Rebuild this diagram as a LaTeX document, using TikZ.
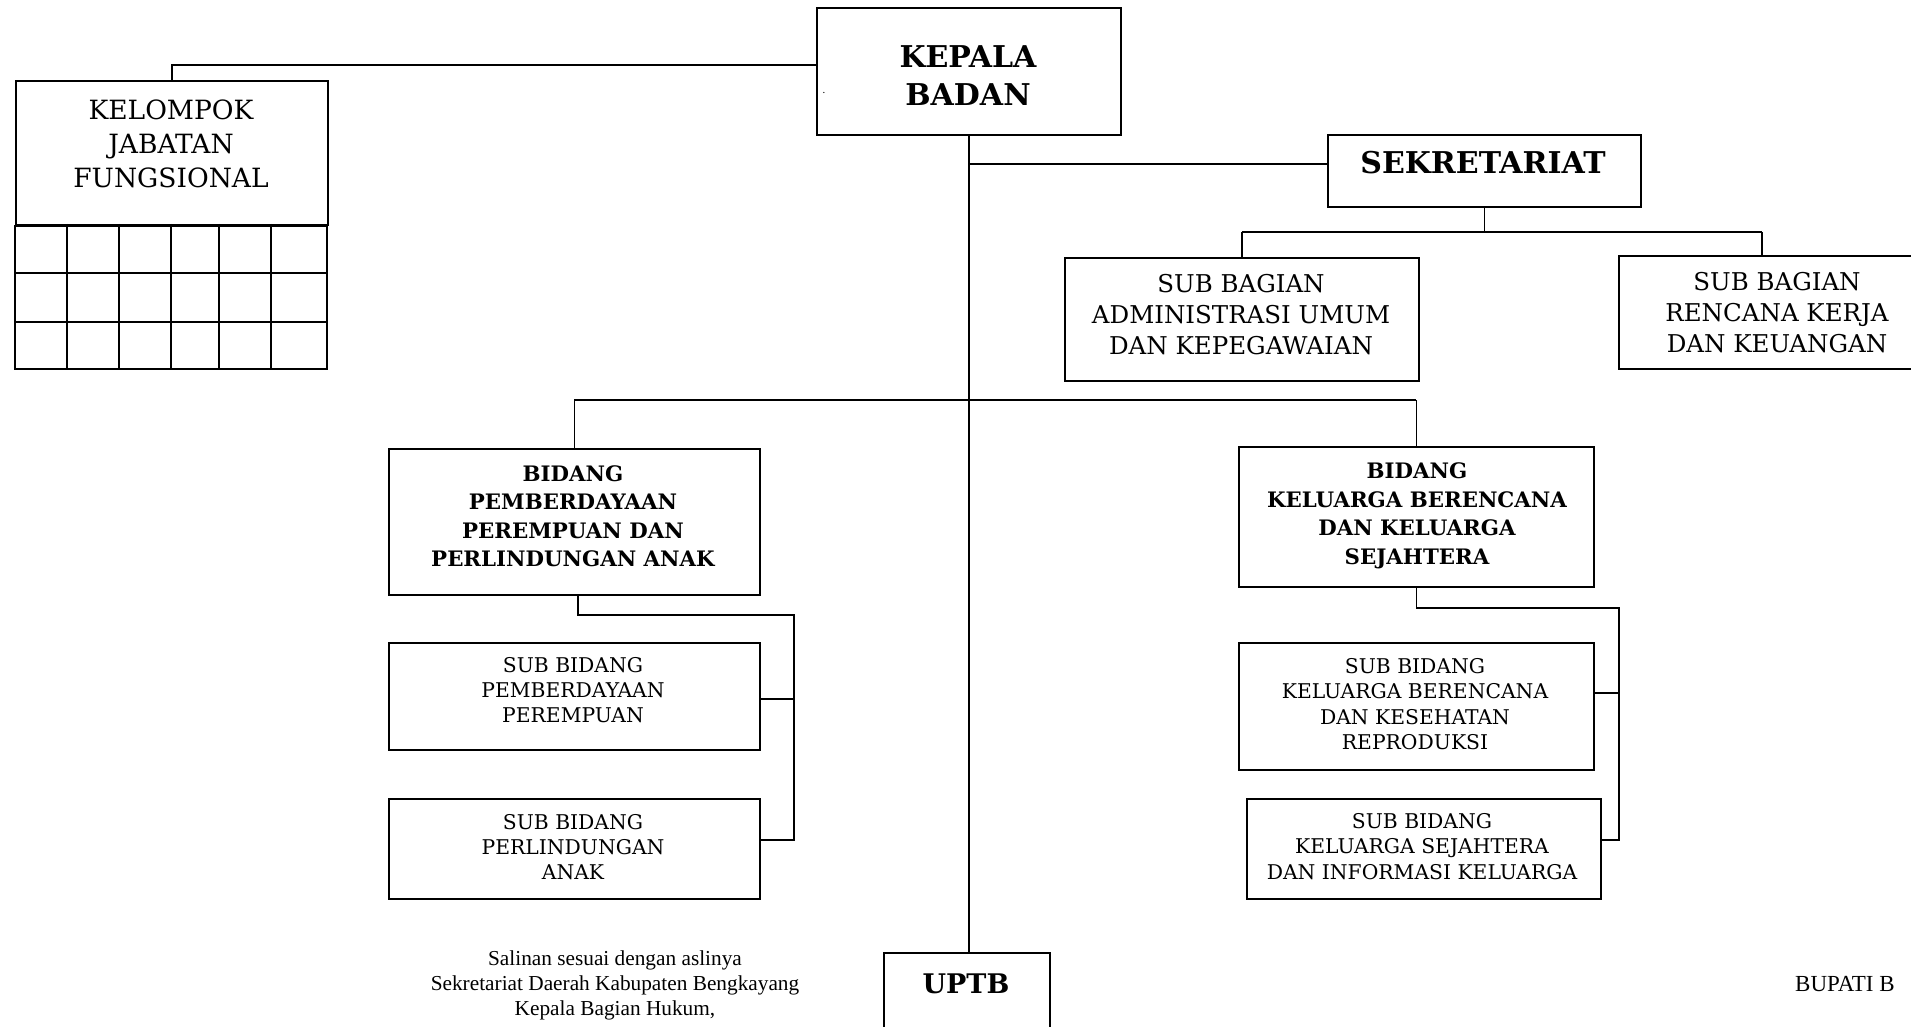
\documentclass[tikz,border=0pt]{standalone}
\usepackage{fontspec}
\setmainfont{DejaVu Serif}
\newfontfamily\timesfont{Liberation Serif}
\begin{document}
\begin{tikzpicture}[x=1pt,y=-1pt,
  box/.style={draw, line width=1.8pt, inner sep=0pt, anchor=north west},
  txt/.style={align=center, inner sep=0pt},
  conn/.style={line width=1.5pt},
  gridline/.style={line width=1.6pt},
  headfont/.style={txt, font=\bfseries\fontsize{30}{38}\selectfont},
  uptbfont/.style={txt, font=\bfseries\fontsize{27}{34}\selectfont},
  bagfont/.style={txt, font=\fontsize{24.5}{31}\selectfont},
  kelfont/.style={txt, font=\fontsize{26.5}{34}\selectfont},
  bidfont/.style={txt, font=\bfseries\fontsize{21.3}{28.5}\selectfont},
  subfont/.style={txt, font=\fontsize{20.3}{25.3}\selectfont},
  salfont/.style={txt, font=\timesfont\fontsize{21.3}{25}\selectfont},
  bupfont/.style={font=\timesfont\fontsize{23}{27}\selectfont, inner sep=0pt}]
\useasboundingbox[fill=white] (0,0) rectangle (1911,1027);

% boxes
\node[box, minimum width=304pt, minimum height=127pt] (kepala) at (816,7) {};
\node[headfont] (kepalatxt) at (968,76) {KEPALA\\BADAN};
\node[font=\fontsize{10}{10}\selectfont, inner sep=0pt] (dot) at (824,93) {.};

\node[box, minimum width=313pt, minimum height=72pt] (sek) at (1327,134) {};
\node[headfont] (sektxt) at (1483,163) {SEKRETARIAT};

\node[box, minimum width=354pt, minimum height=123pt] (adm) at (1064,257) {};
\node[bagfont] (admtxt) at (1241,314.5) {SUB BAGIAN\\ADMINISTRASI UMUM\\DAN KEPEGAWAIAN};

\node[box, minimum width=318pt, minimum height=113pt] (ren) at (1618,255) {};
\node[bagfont] (rentxt) at (1777,313) {SUB BAGIAN\\RENCANA KERJA\\DAN KEUANGAN};

\node[box, minimum width=312pt, minimum height=144pt] (kelompok) at (15,80) {};
\node[kelfont] (kelompoktxt) at (171,144) {KELOMPOK\\JABATAN\\FUNGSIONAL};
\draw[gridline] (kelompok.south west) rectangle (327,369);
\foreach \y in {273,322} \draw[gridline] (15,\y) -- (327,\y);
\foreach \x in {67,119,171,219,271} \draw[gridline] (\x,224) -- (\x,369);

\node[box, minimum width=371pt, minimum height=146pt] (pppa) at (388,448) {};
\node[bidfont] (pppatxt) at (573,516) {BIDANG\\PEMBERDAYAAN\\PEREMPUAN DAN\\PERLINDUNGAN ANAK};
\node[box, minimum width=371pt, minimum height=107pt] (pp) at (388,642) {};
\node[subfont] (pptxt) at (573,690) {SUB BIDANG\\PEMBERDAYAAN\\PEREMPUAN};
\node[box, minimum width=371pt, minimum height=100pt] (pa) at (388,798) {};
\node[subfont] (patxt) at (573,847) {SUB BIDANG\\PERLINDUNGAN\\ANAK};

\node[box, minimum width=355pt, minimum height=140pt] (kb) at (1238,446) {};
\node[bidfont] (kbtxt) at (1417,516) {BIDANG\\KELUARGA BERENCANA\\DAN KELUARGA\\SEJAHTERA};
\node[box, minimum width=355pt, minimum height=127pt] (kbkr) at (1238,642) {};
\node[subfont] (kbkrtxt) at (1415,704) {SUB BIDANG\\KELUARGA BERENCANA\\DAN KESEHATAN\\REPRODUKSI};
\node[box, minimum width=354pt, minimum height=100pt] (ksik) at (1246,798) {};
\node[subfont] (ksiktxt) at (1422,846.5) {SUB BIDANG\\KELUARGA SEJAHTERA\\DAN INFORMASI KELUARGA};

\node[box, line width=2.2pt, minimum width=166pt, minimum height=120pt] (uptb) at (883,952) {};
\node[uptbfont] (uptbtxt) at (966,984) {UPTB};

\node[salfont] (salinan) at (615,985) {Salinan sesuai dengan aslinya\\Sekretariat Daerah Kabupaten Bengkayang\\Kepala Bagian Hukum,};
\node[bupfont, anchor=west] (bupati) at (1795,984) {BUPATI B};

% connectors
\draw[conn] ([yshift=6.5pt]kepala.west) -| (kelompok.north);
\draw[conn] (kepala.south) -- (kepala.south |- uptb.north);
\draw[conn] (kepala.south |- 0,164) -- (sek.west |- 0,164);
\draw[conn] (sek.south) -- ++(0,24) coordinate (sekj);
\coordinate (renj) at ([xshift=-16pt]ren.north);
\draw[conn] (adm.north |- sekj) -- (renj |- sekj);
\draw[conn] (adm.north |- sekj) -- (adm.north);
\draw[conn] (renj |- sekj) -- (renj);

\coordinate (bj) at (kepala.south |- 0,400);
\draw[conn] (pppa.north |- bj) -- (kb.north |- bj);
\draw[conn] (pppa.north |- bj) -- (pppa.north);
\draw[conn] (kb.north |- bj) -- (kb.north);

\coordinate (lbtop) at ([xshift=3.5pt]pppa.south);
\draw[conn] (lbtop) -- ++(0,19) -| (794,840) -- (pa.east |- 0,840);
\draw[conn] (794,699) -- (pp.east |- 0,699);

\draw[conn] (kb.south) -- ++(0,20) -| (1619,840) -- (ksik.east |- 0,840);
\draw[conn] (1619,693) -- (kbkr.east |- 0,693);
\end{tikzpicture}
\end{document}
